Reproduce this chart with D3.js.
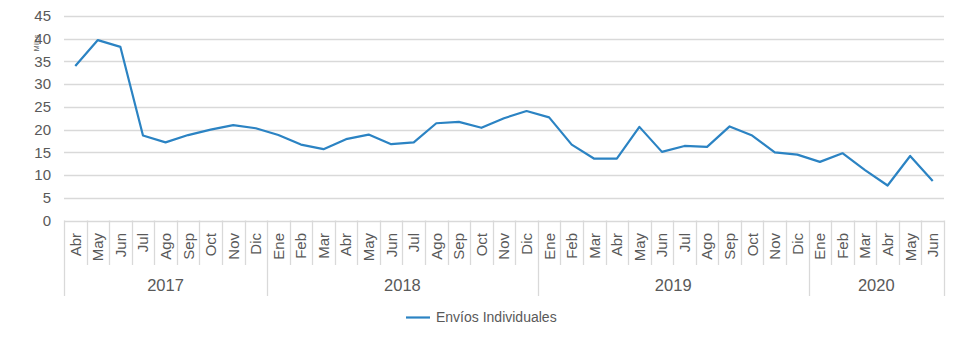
<!DOCTYPE html>
<html>
<head>
<meta charset="utf-8">
<script src="https://cdn.jsdelivr.net/npm/d3@7"></script>
<style>
  body { margin: 0; background: #fff; }
  text { font-family: "Liberation Sans", Arial, sans-serif; fill: #595959; }
</style>
</head>
<body>
<div id="chart"></div>
<script>
// months from Abr 2017 to Jun 2020
const months = ["Abr","May","Jun","Jul","Ago","Sep","Oct","Nov","Dic",
  "Ene","Feb","Mar","Abr","May","Jun","Jul","Ago","Sep","Oct","Nov","Dic",
  "Ene","Feb","Mar","Abr","May","Jun","Jul","Ago","Sep","Oct","Nov","Dic",
  "Ene","Feb","Mar","Abr","May","Jun"];
const years = ["2017", "2018", "2019", "2020"];
const yearCounts = [9, 12, 12, 6];
const envios = [34.0, 39.7, 38.2, 18.7, 17.2, 18.8, 20.0, 21.0, 20.3,
  18.8, 16.7, 15.7, 17.9, 18.9, 16.8, 17.2, 21.4, 21.7, 20.4, 22.5, 24.1,
  22.7, 16.7, 13.6, 13.6, 20.6, 15.1, 16.4, 16.2, 20.7, 18.7, 15.0, 14.5,
  12.9, 14.8, 11.1, 7.7, 14.2, 8.7];
const yTicks = [0, 5, 10, 15, 20, 25, 30, 35, 40, 45];
const seriesName = "Envíos Individuales";
const yTitle = "Miles";

const width = 960, height = 340;
const plotLeft = 64, plotRight = 944, plotTop = 16, plotBottom = 220.5;
const lineColor = "#2b83c3";
const gridColor = "#d9d9d9";

const svg = d3.select("#chart").append("svg")
    .attr("width", width)
    .attr("height", height);

const x = d3.scaleBand()
    .domain(d3.range(months.length))
    .range([plotLeft, plotRight])
    .padding(0);

const y = d3.scaleLinear()
    .domain([0, 45])
    .range([plotBottom, plotTop]);

// horizontal gridlines
svg.append("g")
  .selectAll("line")
  .data(yTicks)
  .join("line")
    .attr("x1", plotLeft)
    .attr("x2", plotRight)
    .attr("y1", d => Math.round(y(d)) + 0.5)
    .attr("y2", d => Math.round(y(d)) + 0.5)
    .attr("stroke", gridColor)
    .attr("stroke-width", 1.3);

// y tick labels
svg.append("g")
  .selectAll("text")
  .data(yTicks)
  .join("text")
    .attr("x", 51)
    .attr("y", d => y(d))
    .attr("dy", "0.35em")
    .attr("text-anchor", "end")
    .style("font-size", "15px")
    .text(d => d);

svg.append("text")
    .attr("transform", `translate(39,43) rotate(-90)`)
    .attr("text-anchor", "middle")
    .style("font-size", "7px")
    .text(yTitle);

// year start indices
const yearStart = [];
let acc = 0;
yearCounts.forEach(c => { yearStart.push(acc); acc += c; });
const bounds = d3.range(months.length + 1);
const isYearBound = i => i === months.length || yearStart.includes(i);

// category separators
svg.append("g")
  .selectAll("line")
  .data(bounds)
  .join("line")
    .attr("x1", i => Math.round(plotLeft + i * x.bandwidth()) + 0.5)
    .attr("x2", i => Math.round(plotLeft + i * x.bandwidth()) + 0.5)
    .attr("y1", plotBottom)
    .attr("y2", i => isYearBound(i) ? 296 : 265)
    .attr("stroke", gridColor)
    .attr("stroke-width", 1.3);

// month labels
svg.append("g")
  .selectAll("text")
  .data(months)
  .join("text")
    .attr("transform", (d, i) => `translate(${x(i) + x.bandwidth() / 2},233) rotate(-90)`)
    .attr("dy", "0.36em")
    .attr("text-anchor", "end")
    .style("font-size", "15px")
    .text(d => d);

// year labels
svg.append("g")
  .selectAll("text")
  .data(years)
  .join("text")
    .attr("x", (d, i) => plotLeft + (yearStart[i] + yearCounts[i] / 2) * x.bandwidth())
    .attr("y", 291)
    .attr("text-anchor", "middle")
    .style("font-size", "16.5px")
    .text(d => d);

// series line
const line = d3.line()
    .x((d, i) => x(i) + x.bandwidth() / 2)
    .y(d => y(d));

svg.append("path")
    .datum(envios)
    .attr("fill", "none")
    .attr("stroke", lineColor)
    .attr("stroke-width", 2.2)
    .attr("stroke-linejoin", "round")
    .attr("d", line);

// legend
const legend = svg.append("g").attr("transform", "translate(406,317.5)");
legend.append("line")
    .attr("x1", 0).attr("x2", 24)
    .attr("stroke", lineColor)
    .attr("stroke-width", 2.2);
legend.append("text")
    .attr("x", 30)
    .attr("dy", "0.35em")
    .style("font-size", "14px")
    .text(seriesName);
</script>
</body>
</html>
